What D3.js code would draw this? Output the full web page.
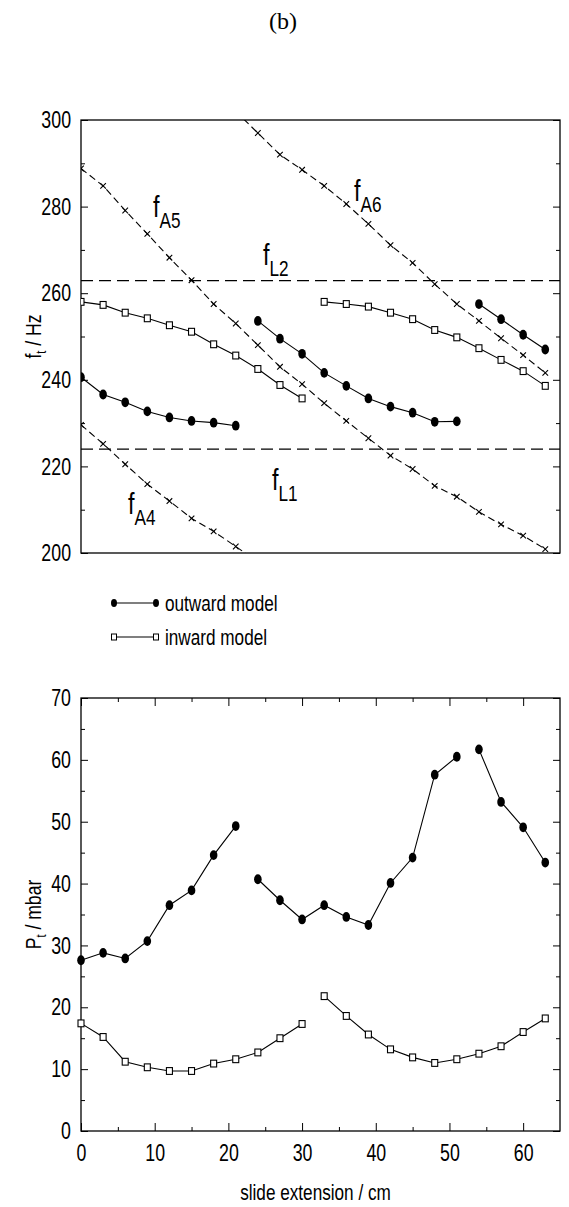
<!DOCTYPE html>
<html><head><meta charset="utf-8">
<script src="https://cdn.jsdelivr.net/npm/d3@7"></script>
<style>
body{margin:0;background:#fff;}
svg{display:block;}
text{font-family:"Liberation Sans Narrow","Liberation Sans",Arial,sans-serif;fill:#000;}
</style></head><body>
<svg id="c" width="569" height="1207"></svg>
<script>
// ---------- DATA ----------
const xTop = [0,3,6,9,12,15,18,21,24,27,30,33,36,39,42,45,48,51,54,57,60,63];
// outward model (filled circles), top panel f_t / Hz
const outTop1X = [0,3,6,9,12,15,18,21];
const outTop1Y = [240.6,236.6,234.8,232.7,231.3,230.5,230.1,229.4];
const outTop2X = [24,27,30,33,36,39,42,45,48,51];
const outTop2Y = [253.6,249.5,246.0,241.6,238.6,235.7,233.8,232.4,230.3,230.4];
const outTop3X = [54,57,60,63];
const outTop3Y = [257.5,254.0,250.4,247.0];
// inward model (open squares), top panel
const inTop1X = [0,3,6,9,12,15,18,21,24,27,30];
const inTop1Y = [258.0,257.3,255.5,254.2,252.6,251.1,248.2,245.6,242.5,238.8,235.7];
const inTop2X = [33,36,39,42,45,48,51,54,57,60,63];
const inTop2Y = [258.0,257.5,256.9,255.5,254.0,251.5,249.8,247.3,244.6,242.0,238.6];
// air-column resonances (crosses, dashed)
const fA4X = [0,3,6,9,12,15,18,21,24];
const fA4Y = [229.6,225.2,220.5,215.9,212.0,208.0,205.0,201.5,198.0];
const fA5X = xTop;
const fA5Y = [288.8,284.8,279.1,273.7,268.2,263.0,257.5,253.0,248.0,243.0,239.0,234.6,230.5,226.5,222.5,219.4,215.5,213.0,209.5,206.6,204.0,200.9];
const fA6X = [21,24,27,30,33,36,39,42,45,48,51,54,57,60,63];
const fA6Y = [302.0,297.0,292.0,288.5,284.8,280.6,276.0,271.1,267.0,262.1,257.5,253.6,249.6,245.7,241.6];
// lip resonances (horizontal dashed)
const fL1 = 224.0;
const fL2 = 262.9;
// bottom panel P_t / mbar
const outBot1X = [0,3,6,9,12,15,18,21];
const outBot1Y = [27.6,28.8,27.9,30.7,36.5,38.9,44.6,49.3];
const outBot2X = [24,27,30,33,36,39,42,45,48,51];
const outBot2Y = [40.7,37.3,34.2,36.5,34.6,33.3,40.1,44.2,57.6,60.5];
const outBot3X = [54,57,60,63];
const outBot3Y = [61.7,53.2,49.1,43.4];
const inBot1X = [0,3,6,9,12,15,18,21,24,27,30];
const inBot1Y = [17.4,15.2,11.2,10.3,9.7,9.7,10.9,11.6,12.7,15.0,17.3];
const inBot2X = [33,36,39,42,45,48,51,54,57,60,63];
const inBot2Y = [21.8,18.6,15.6,13.2,11.9,11.0,11.6,12.5,13.7,16.0,18.2];
// ticks
const topYTicks = [200,220,240,260,280,300];
const topYMinor = [210,230,250,270,290];
const botYTicks = [0,10,20,30,40,50,60,70];
const botYMinor = [5,15,25,35,45,55,65];
const botXTicks = [0,10,20,30,40,50,60];
const botXMinor = [5,15,25,35,45,55];
const legendLabels = ["outward model","inward model"];

// ---------- LAYOUT ----------
const svg = d3.select("#c");
const L = 81, R = 560;
const SQ = 0.74; // horizontal squeeze emulating a narrow font
const x = d3.scaleLinear([0,65],[L,R]);
const yT = d3.scaleLinear([200,300],[553,120]);
const yB = d3.scaleLinear([0,70],[1131,698]);
const zip = (a,b)=>a.map((v,i)=>[v,b[i]]);
function squeeze(sel, r){
  sel.each(function(){
    const w = this.getComputedTextLength();
    if(w>0) d3.select(this).attr("textLength", w*r).attr("lengthAdjust","spacingAndGlyphs");
  });
}

svg.append("text").attr("x",283).attr("y",29).attr("text-anchor","middle")
  .style("font-family","'Liberation Serif','Times New Roman',serif").style("font-size","24px").text("(b)");

svg.append("defs").append("clipPath").attr("id","clipT")
  .append("rect").attr("x",L).attr("y",yT(300)).attr("width",R-L).attr("height",yT(200)-yT(300));

function axes(yS, major, minor, xMajor, xMinor){
  const g = svg.append("g");
  const [y0,y1] = yS.range();
  g.append("g").attr("transform",`translate(${L},0)`)
    .call(d3.axisLeft(yS).tickValues(major).tickSize(-7).tickPadding(10).tickFormat(d3.format("d")))
    .call(s=>s.select(".domain").remove());
  g.append("g").attr("transform",`translate(${L},0)`)
    .call(d3.axisLeft(yS).tickValues(minor).tickSize(-4).tickFormat(""))
    .call(s=>s.select(".domain").remove());
  g.append("g").attr("transform",`translate(${R},0)`)
    .call(d3.axisRight(yS).tickValues(major).tickSize(-7).tickFormat(""))
    .call(s=>s.select(".domain").remove());
  g.append("g").attr("transform",`translate(${R},0)`)
    .call(d3.axisRight(yS).tickValues(minor).tickSize(-4).tickFormat(""))
    .call(s=>s.select(".domain").remove());
  if(xMajor){
    g.append("g").attr("transform",`translate(0,${y0})`)
      .call(d3.axisBottom(x).tickValues(xMajor).tickSize(-8).tickPadding(13).tickFormat(d3.format("d")))
      .call(s=>s.select(".domain").remove());
    g.append("g").attr("transform",`translate(0,${y0})`)
      .call(d3.axisBottom(x).tickValues(xMinor).tickSize(-4).tickFormat(""))
      .call(s=>s.select(".domain").remove());
    g.append("g").attr("transform",`translate(0,${y1})`)
      .call(d3.axisTop(x).tickValues(xMajor).tickSize(-8).tickFormat(""))
      .call(s=>s.select(".domain").remove());
    g.append("g").attr("transform",`translate(0,${y1})`)
      .call(d3.axisTop(x).tickValues(xMinor).tickSize(-4).tickFormat(""))
      .call(s=>s.select(".domain").remove());
  }
  const tt = g.selectAll(".tick text").attr("fill","#000").style("font-size","24px")
    .style("font-family","'Liberation Sans Narrow','Liberation Sans',Arial,sans-serif");
  squeeze(tt, SQ);
  g.selectAll(".tick line").attr("stroke","#000").attr("stroke-width",1);
  g.append("rect").attr("x",L).attr("y",y1).attr("width",R-L).attr("height",y0-y1)
    .attr("fill","none").attr("stroke","#000").attr("stroke-width",1.3);
}

function series(yS, xs, ys, type, clip){
  const g = svg.append("g");
  if(clip) g.attr("clip-path","url(#clipT)");
  const pts = zip(xs,ys);
  const line = d3.line().x(d=>x(d[0])).y(d=>yS(d[1]));
  const p = g.append("path").attr("d",line(pts)).attr("fill","none").attr("stroke","#000").attr("stroke-width",1.1);
  if(type==="cross") p.attr("stroke-dasharray","7,4");
  pts.forEach(d=>{
    const cx=x(d[0]), cy=yS(d[1]);
    if(type==="circle") g.append("ellipse").attr("cx",cx).attr("cy",cy).attr("rx",3.8).attr("ry",4.9).attr("fill","#000");
    else if(type==="square") g.append("rect").attr("x",cx-3).attr("y",cy-3.4).attr("width",6).attr("height",6.8).attr("fill","#fff").attr("stroke","#000").attr("stroke-width",1.1);
    else g.append("path").attr("d",`M${cx-2.8},${cy-2.8}L${cx+2.8},${cy+2.8}M${cx-2.8},${cy+2.8}L${cx+2.8},${cy-2.8}`).attr("stroke","#000").attr("stroke-width",1.1);
  });
}

// ---------- TOP PANEL ----------
axes(yT, topYTicks, topYMinor);
[fL1,fL2].forEach(v=>svg.append("line").attr("x1",L).attr("x2",R).attr("y1",yT(v)).attr("y2",yT(v))
  .attr("stroke","#000").attr("stroke-width",1.2).attr("stroke-dasharray","12,6"));
series(yT, fA4X, fA4Y, "cross", true);
series(yT, fA5X, fA5Y, "cross", true);
series(yT, fA6X, fA6Y, "cross", true);
series(yT, inTop1X, inTop1Y, "square", true);
series(yT, inTop2X, inTop2Y, "square", true);
series(yT, outTop1X, outTop1Y, "circle", true);
series(yT, outTop2X, outTop2Y, "circle", true);
series(yT, outTop3X, outTop3Y, "circle", true);

function fLabel(px, py, sub){
  const t = svg.append("text").attr("transform",`translate(${px},${py}) scale(0.78,1)`);
  t.append("tspan").style("font-size","30px").text("f");
  t.append("tspan").attr("dx",0).attr("dy",11).style("font-size","22px").text(sub);
}
fLabel(153, 217, "A5");
fLabel(354, 201, "A6");
fLabel(263, 265, "L2");
fLabel(272, 490, "L1");
fLabel(128, 514, "A4");

function yLabel(cy, main, sub, rest){
  const t = svg.append("text").attr("transform",`translate(41,${cy}) rotate(-90) scale(0.8,1)`)
    .attr("text-anchor","middle").style("font-size","22px");
  t.append("tspan").text(main);
  t.append("tspan").attr("dy",5).style("font-size","14px").text(sub);
  t.append("tspan").attr("dy",-5).text(rest);
}
yLabel((yT(200)+yT(300))/2, "f", "t", " / Hz");

// ---------- LEGEND ----------
const lg = svg.append("g");
[603,637].forEach((ly,i)=>{
  lg.append("line").attr("x1",114).attr("x2",156).attr("y1",ly).attr("y2",ly).attr("stroke","#000").attr("stroke-width",1.2);
  [114,156].forEach(lx=>{
    if(i===0) lg.append("ellipse").attr("cx",lx).attr("cy",ly).attr("rx",3).attr("ry",4).attr("fill","#000");
    else lg.append("rect").attr("x",lx-2.5).attr("y",ly-3).attr("width",5).attr("height",6).attr("fill","#fff").attr("stroke","#000");
  });
  const t = lg.append("text").attr("x",165).attr("y",ly+8).style("font-size","22px").text(legendLabels[i]);
  squeeze(t, SQ+0.04);
});

// ---------- BOTTOM PANEL ----------
axes(yB, botYTicks, botYMinor, botXTicks, botXMinor);
series(yB, outBot1X, outBot1Y, "circle");
series(yB, outBot2X, outBot2Y, "circle");
series(yB, outBot3X, outBot3Y, "circle");
series(yB, inBot1X, inBot1Y, "square");
series(yB, inBot2X, inBot2Y, "square");

yLabel((yB(0)+yB(70))/2, "P", "t", " / mbar");

const xt = svg.append("text").attr("x",(L+R)/2 - 5).attr("y",1200).attr("text-anchor","middle")
  .style("font-size","22px").text("slide extension / cm");
squeeze(xt, SQ+0.04);
</script>
</body></html>
